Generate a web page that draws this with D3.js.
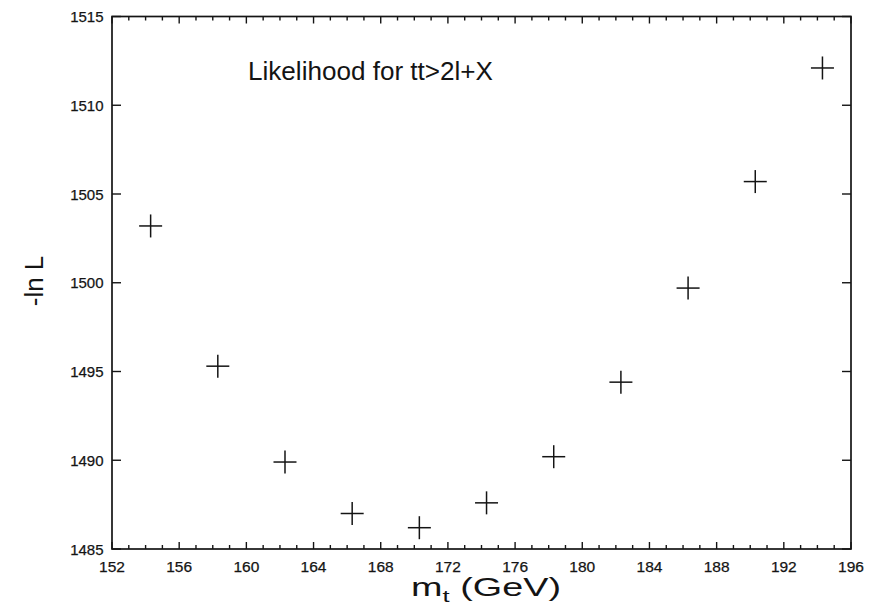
<!DOCTYPE html>
<html>
<head>
<meta charset="utf-8">
<script src="https://cdn.jsdelivr.net/npm/d3@7"></script>
<style>
  html, body { margin: 0; padding: 0; background: #fff; }
  svg { display: block; font-family: "Liberation Sans", Arial, Helvetica, sans-serif; }
</style>
</head>
<body>
<svg id="chart" width="881" height="605"></svg>
<script>
// Top-quark mass hypotheses (GeV) and the negative log-likelihood at each
const massPoints = [154.3, 158.3, 162.3, 166.3, 170.3, 174.3, 178.3, 182.3, 186.3, 190.3, 194.3];
const negLogL    = [1503.2, 1495.3, 1489.9, 1487.0, 1486.2, 1487.6, 1490.2, 1494.4, 1499.7, 1505.7, 1512.1];

const xTickValues = [152, 156, 160, 164, 168, 172, 176, 180, 184, 188, 192, 196];
const xMinorTicks = d3.range(152, 197, 1);
const yTickValues = [1485, 1490, 1495, 1500, 1505, 1510, 1515];

const titleText = "Likelihood for tt>2l+X";
const yLabelText = "-ln L";

const svg = d3.select("#chart");
const frame = { left: 112, top: 16.5, right: 851, bottom: 549 };

const x = d3.scaleLinear().domain([152, 196]).range([frame.left, frame.right]);
const y = d3.scaleLinear().domain([1485, 1515]).range([frame.bottom, frame.top]);

const ink = "#141414";
const g = svg.append("g");

// Minor and major ticks along bottom and top edges, pointing inward
const majorSet = new Set(xTickValues);
xMinorTicks.forEach(v => {
  const len = majorSet.has(v) ? 7 : 4;
  g.append("line").attr("x1", x(v)).attr("x2", x(v))
    .attr("y1", frame.bottom).attr("y2", frame.bottom - len)
    .attr("stroke", ink).attr("stroke-width", 1.4);
  g.append("line").attr("x1", x(v)).attr("x2", x(v))
    .attr("y1", frame.top).attr("y2", frame.top + len)
    .attr("stroke", ink).attr("stroke-width", 1.4);
});

// Y ticks on left and right edges, pointing inward
yTickValues.forEach(v => {
  g.append("line").attr("x1", frame.left).attr("x2", frame.left + 9)
    .attr("y1", y(v)).attr("y2", y(v)).attr("stroke", ink).attr("stroke-width", 1.4);
  g.append("line").attr("x1", frame.right).attr("x2", frame.right - 9)
    .attr("y1", y(v)).attr("y2", y(v)).attr("stroke", ink).attr("stroke-width", 1.4);
});

// Plot frame
g.append("rect")
  .attr("x", frame.left).attr("y", frame.top)
  .attr("width", frame.right - frame.left).attr("height", frame.bottom - frame.top)
  .attr("fill", "none").attr("stroke", ink).attr("stroke-width", 1.7);

// Tick labels
g.selectAll("text.xt").data(xTickValues).join("text")
  .attr("class", "xt")
  .attr("x", d => x(d)).attr("y", 571.5)
  .attr("text-anchor", "middle")
  .attr("font-size", 15.5).attr("fill", ink)
  .attr("stroke", ink).attr("stroke-width", 0.25)
  .text(d => d);

g.selectAll("text.yt").data(yTickValues).join("text")
  .attr("class", "yt")
  .attr("x", 103.5).attr("y", d => y(d) + 5.5)
  .attr("text-anchor", "end")
  .attr("font-size", 15).attr("fill", ink)
  .attr("stroke", ink).attr("stroke-width", 0.25)
  .text(d => d);

// Data markers: plus signs
const arm = 11.5;
const pts = g.selectAll("g.pt").data(massPoints.map((m, i) => [m, negLogL[i]])).join("g")
  .attr("class", "pt")
  .attr("transform", d => `translate(${x(d[0])},${y(d[1])})`);
pts.append("line").attr("x1", -arm).attr("x2", arm).attr("y1", 0).attr("y2", 0)
  .attr("stroke", ink).attr("stroke-width", 1.5);
pts.append("line").attr("x1", 0).attr("x2", 0).attr("y1", -arm).attr("y2", arm)
  .attr("stroke", ink).attr("stroke-width", 1.5);

// Title inside the plot
g.append("text")
  .attr("x", 248).attr("y", 79.5)
  .attr("font-size", 25.5).attr("fill", ink)
  .attr("textLength", 245).attr("lengthAdjust", "spacingAndGlyphs")
  .text(titleText);

// Axis titles
g.append("text")
  .attr("transform", "translate(43,281) rotate(-90)")
  .attr("text-anchor", "middle")
  .attr("font-size", 26).attr("fill", ink)
  .text(yLabelText);

// x-axis title, widened to span its slot beneath the axis
const xlWrap = g.append("g");
const xl = xlWrap.append("text")
  .attr("x", 0).attr("y", 0)
  .attr("text-anchor", "middle")
  .attr("font-size", 25).attr("fill", ink);
xl.append("tspan").text("m");
xl.append("tspan").attr("font-size", 17).attr("dy", 6).text("t");
xl.append("tspan").attr("dy", -6).text(" (GeV)");
const bw = xl.node().getBBox().width;
const sx = 150 / bw;
xlWrap.attr("transform", `translate(486,596) scale(${sx},1)`);
</script>
</body>
</html>
